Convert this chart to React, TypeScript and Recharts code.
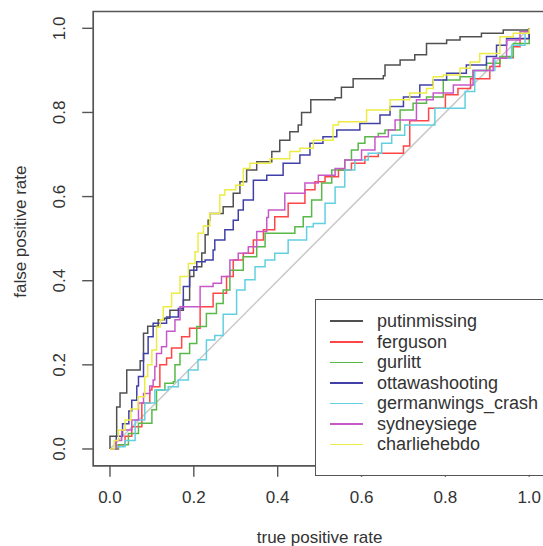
import {
  Line,
  LineChart,
  ReferenceArea,
  XAxis,
  YAxis,
} from "recharts";

const FONT = "'Liberation Sans', Arial, Helvetica, sans-serif";
const INK = "#333";
const FRAME = "#555";

const seriesNames = [
  "putinmissing",
  "ferguson",
  "gurlitt",
  "ottawashooting",
  "germanwings_crash",
  "sydneysiege",
  "charliehebdo",
];
const seriesColors = [
  "#505050",
  "#ff4545",
  "#58b848",
  "#4040a8",
  "#62d0e0",
  "#c858c8",
  "#ecec44",
];

const xTicks = [0, 0.2, 0.4, 0.6, 0.8, 1.0];
const yTicks = [0, 0.2, 0.4, 0.6, 0.8, 1.0];

// [x, y] step corners
const putinmissing: [number, number][] = [
  [0, 0], [0, 0.03], [0.016, 0.1], [0.024, 0.133], [0.04, 0.188], [0.072, 0.21],
  [0.08, 0.275], [0.09, 0.292], [0.115, 0.307], [0.13, 0.311], [0.143, 0.33],
  [0.175, 0.354], [0.19, 0.41], [0.2, 0.433], [0.219, 0.466], [0.227, 0.509],
  [0.234, 0.544], [0.238, 0.56], [0.27, 0.576], [0.294, 0.608], [0.31, 0.635],
  [0.326, 0.663], [0.35, 0.683], [0.386, 0.707], [0.405, 0.734], [0.429, 0.754],
  [0.449, 0.77], [0.457, 0.8], [0.479, 0.83], [0.537, 0.835], [0.552, 0.86],
  [0.58, 0.88], [0.652, 0.887], [0.656, 0.913], [0.692, 0.925], [0.727, 0.937],
  [0.755, 0.964], [0.803, 0.972], [0.835, 0.98], [0.886, 0.988], [0.938, 0.996],
  [1, 1],
];
const ferguson: [number, number][] = [
  [0, 0], [0.02, 0.01], [0.036, 0.03], [0.052, 0.053], [0.076, 0.109], [0.095, 0.14],
  [0.1, 0.148], [0.119, 0.2], [0.135, 0.216], [0.147, 0.24], [0.171, 0.267],
  [0.19, 0.287], [0.215, 0.338], [0.246, 0.37], [0.278, 0.41], [0.294, 0.449],
  [0.318, 0.465], [0.342, 0.497], [0.366, 0.521], [0.393, 0.552], [0.425, 0.584],
  [0.465, 0.616], [0.489, 0.635], [0.513, 0.647], [0.545, 0.663], [0.576, 0.679],
  [0.608, 0.695], [0.64, 0.703], [0.7, 0.72], [0.715, 0.78], [0.76, 0.81],
  [0.8, 0.842], [0.83, 0.857], [0.86, 0.88], [0.906, 0.909], [0.93, 0.93],
  [0.962, 0.956], [0.978, 0.975], [1, 1],
];
const gurlitt: [number, number][] = [
  [0, 0], [0.02, 0.01], [0.044, 0.037], [0.068, 0.061], [0.1, 0.093], [0.111, 0.14],
  [0.131, 0.156], [0.151, 0.16], [0.155, 0.2], [0.167, 0.227], [0.19, 0.251],
  [0.207, 0.291], [0.23, 0.322], [0.254, 0.346], [0.27, 0.378], [0.286, 0.425],
  [0.318, 0.457], [0.35, 0.481], [0.37, 0.513], [0.433, 0.513], [0.441, 0.528],
  [0.461, 0.552], [0.481, 0.592], [0.505, 0.632], [0.529, 0.663], [0.56, 0.687],
  [0.576, 0.711], [0.592, 0.727], [0.608, 0.742], [0.64, 0.75], [0.656, 0.758],
  [0.692, 0.806], [0.723, 0.822], [0.755, 0.837], [0.795, 0.877], [0.835, 0.885],
  [0.866, 0.9], [0.898, 0.917], [0.93, 0.933], [0.962, 0.964], [1, 1],
];
const ottawashooting: [number, number][] = [
  [0, 0], [0.015, 0.03], [0.03, 0.06], [0.045, 0.09], [0.052, 0.116], [0.064, 0.15],
  [0.068, 0.172], [0.08, 0.227], [0.091, 0.267], [0.103, 0.299], [0.135, 0.314],
  [0.163, 0.334], [0.175, 0.386], [0.19, 0.425], [0.207, 0.445], [0.227, 0.449],
  [0.246, 0.473], [0.25, 0.497], [0.274, 0.521], [0.294, 0.544], [0.306, 0.568],
  [0.318, 0.592], [0.342, 0.639], [0.374, 0.651], [0.413, 0.679], [0.453, 0.699],
  [0.477, 0.727], [0.508, 0.742], [0.541, 0.758], [0.596, 0.774], [0.644, 0.794],
  [0.668, 0.814], [0.7, 0.837], [0.739, 0.865], [0.771, 0.877], [0.803, 0.893],
  [0.85, 0.913], [0.898, 0.933], [0.922, 0.96], [0.946, 0.976], [1, 1],
];
const germanwings: [number, number][] = [
  [0, 0], [0.015, 0.005], [0.036, 0.02], [0.06, 0.069], [0.083, 0.109], [0.107, 0.14],
  [0.139, 0.148], [0.163, 0.164], [0.187, 0.188], [0.21, 0.212], [0.23, 0.259],
  [0.25, 0.27], [0.27, 0.32], [0.302, 0.378], [0.322, 0.402], [0.346, 0.433],
  [0.37, 0.449], [0.393, 0.465], [0.425, 0.497], [0.469, 0.528], [0.485, 0.536],
  [0.513, 0.584], [0.537, 0.623], [0.56, 0.663], [0.584, 0.687], [0.616, 0.703],
  [0.648, 0.727], [0.672, 0.746], [0.703, 0.77], [0.775, 0.81], [0.847, 0.85],
  [0.87, 0.9], [0.918, 0.929], [0.958, 0.96], [0.99, 0.992], [1, 1],
];
const sydneysiege: [number, number][] = [
  [0, 0], [0.015, 0.02], [0.028, 0.045], [0.052, 0.069], [0.068, 0.109], [0.08, 0.132],
  [0.095, 0.15], [0.103, 0.164], [0.107, 0.196], [0.111, 0.227], [0.123, 0.243],
  [0.135, 0.28], [0.155, 0.307], [0.167, 0.338], [0.215, 0.386], [0.246, 0.394],
  [0.266, 0.41], [0.286, 0.449], [0.306, 0.465], [0.33, 0.481], [0.35, 0.517],
  [0.374, 0.55], [0.378, 0.568], [0.417, 0.608], [0.465, 0.632], [0.497, 0.651],
  [0.537, 0.667], [0.56, 0.687], [0.6, 0.711], [0.632, 0.742], [0.664, 0.758],
  [0.68, 0.782], [0.731, 0.83], [0.771, 0.846], [0.819, 0.865], [0.866, 0.9],
  [0.914, 0.929], [0.946, 0.972], [0.978, 0.992], [1, 1],
];
const charliehebdo: [number, number][] = [
  [0, 0], [0.01, 0.02], [0.02, 0.045], [0.036, 0.069], [0.05, 0.095], [0.067, 0.124],
  [0.083, 0.172], [0.09, 0.2], [0.1, 0.235], [0.111, 0.29], [0.12, 0.307],
  [0.127, 0.338], [0.147, 0.37], [0.167, 0.41], [0.187, 0.441], [0.203, 0.469],
  [0.21, 0.513], [0.223, 0.53], [0.238, 0.56], [0.262, 0.604], [0.274, 0.616],
  [0.3, 0.627], [0.318, 0.667], [0.334, 0.679], [0.382, 0.69], [0.429, 0.707],
  [0.453, 0.715], [0.485, 0.734], [0.532, 0.77], [0.545, 0.778], [0.612, 0.806],
  [0.668, 0.83], [0.715, 0.846], [0.755, 0.857], [0.771, 0.885], [0.795, 0.889],
  [0.835, 0.905], [0.859, 0.92], [0.882, 0.94], [0.93, 0.98], [0.962, 0.988],
  [1, 1],
];
const chance: [number, number][] = [[0, 0], [1, 1]];

const curves = [
  putinmissing,
  ferguson,
  gurlitt,
  ottawashooting,
  germanwings,
  sydneysiege,
  charliehebdo,
];

const toRows = (pts: [number, number][]) => pts.map(([x, y]) => ({ x, y }));

const fmt = (v: number) => v.toFixed(1);

function XTick({ x, y, payload }: any) {
  return (
    <text x={x} y={y + 24} textAnchor="middle" fontFamily={FONT} fontSize={17} fill={INK}>
      {fmt(payload.value)}
    </text>
  );
}

function YTick({ x, y, payload }: any) {
  const bx = x - 15;
  return (
    <text
      x={bx}
      y={y}
      transform={`rotate(-90, ${bx}, ${y})`}
      textAnchor="middle"
      fontFamily={FONT}
      fontSize={17}
      fill={INK}
    >
      {fmt(payload.value)}
    </text>
  );
}

function XTitle({ viewBox }: any) {
  const { x, y, width } = viewBox;
  return (
    <text x={x + width / 2} y={y + 77} textAnchor="middle" fontFamily={FONT} fontSize={17} fill={INK}>
      true positive rate
    </text>
  );
}

function YTitle({ viewBox }: any) {
  const { y, height } = viewBox;
  const cy = y + height / 2 - 7;
  return (
    <text
      x={26}
      y={cy}
      transform={`rotate(-90, 26, ${cy})`}
      textAnchor="middle"
      fontFamily={FONT}
      fontSize={17}
      fill={INK}
    >
      false positive rate
    </text>
  );
}

function LegendBox() {
  return (
    <div
      style={{
        position: "absolute",
        left: 315,
        top: 299,
        width: 240,
        height: 164,
        border: `1.5px solid ${FRAME}`,
        background: "#fff",
        paddingTop: 11,
        boxSizing: "content-box",
        fontFamily: FONT,
        fontSize: 18,
        color: INK,
      }}
    >
      {seriesNames.map((name, i) => (
        <div key={name} style={{ display: "flex", alignItems: "center", height: 20.55 }}>
          <span
            style={{
              display: "inline-block",
              marginLeft: 13.5,
              width: 33,
              height: 1.6,
              background: seriesColors[i],
            }}
          />
          <span style={{ marginLeft: 14.5, lineHeight: "20.55px" }}>{name}</span>
        </div>
      ))}
    </div>
  );
}

export default function App() {
  return (
    <div
      style={{
        position: "fixed",
        left: 0,
        top: 0,
        width: 543,
        height: 546,
        overflow: "hidden",
        background: "#fff",
      }}
    >
      <LineChart width={560} height={546} margin={{ top: 11.5, right: 14, bottom: 0, left: 0 }}>
        <XAxis
          type="number"
          dataKey="x"
          domain={[-0.04, 1.04]}
          ticks={xTicks}
          allowDataOverflow
          height={80.2}
          axisLine={false}
          tickSize={11}
          tickLine={{ stroke: FRAME, strokeWidth: 1.4 }}
          tick={<XTick />}
          label={<XTitle />}
        />
        <YAxis
          type="number"
          dataKey="y"
          domain={[-0.04, 1.04]}
          ticks={yTicks}
          allowDataOverflow
          width={93.2}
          axisLine={false}
          tickSize={11}
          tickLine={{ stroke: FRAME, strokeWidth: 1.4 }}
          tick={<YTick />}
          label={<YTitle />}
        />
        <Line
          data={toRows(chance)}
          dataKey="y"
          type="linear"
          stroke="#c8c8c8"
          strokeWidth={1.5}
          dot={false}
          activeDot={false}
          isAnimationActive={false}
        />
        {curves.map((pts, i) => (
          <Line
            key={seriesNames[i]}
            data={toRows(pts)}
            dataKey="y"
            name={seriesNames[i]}
            type="stepAfter"
            stroke={seriesColors[i]}
            strokeWidth={1.5}
            dot={false}
            activeDot={false}
            isAnimationActive={false}
          />
        ))}
        <ReferenceArea
          x1={-0.04}
          x2={1.04}
          y1={-0.04}
          y2={1.04}
          fill="none"
          fillOpacity={0}
          stroke={FRAME}
          strokeWidth={1.7}
          ifOverflow="visible"
        />
      </LineChart>
      <LegendBox />
    </div>
  );
}
